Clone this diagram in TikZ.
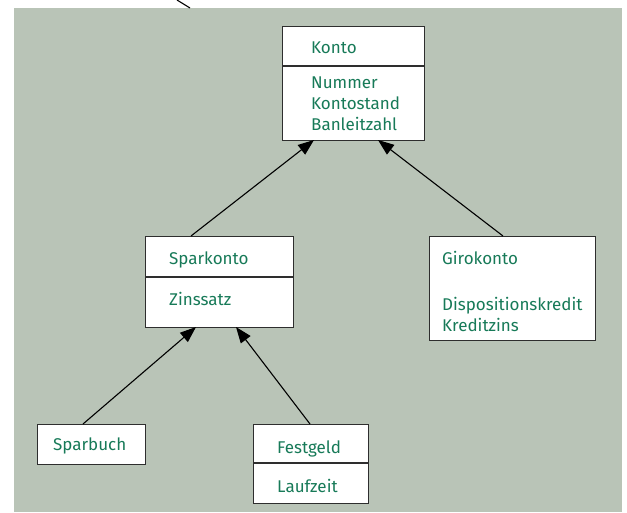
\documentclass[tikz,border=0pt]{standalone}
\usepackage{fontspec}
\setmainfont{Fira Sans}
\usetikzlibrary{arrows.meta}
\definecolor{panel}{HTML}{B9C4B7}
\definecolor{labelgreen}{HTML}{177A58}
\definecolor{frame}{HTML}{2E2E2E}
\tikzset{
  umlbox/.style={draw=frame, fill=white, line width=1.2pt, anchor=north west, inner sep=0pt},
  divider/.style={draw=frame, line width=1.2pt},
  attr/.style={text=labelgreen, anchor=base west, inner sep=0pt, font=\fontsize{17}{20}\selectfont},
  inherit/.style={draw=black, line width=1.1pt, -{Triangle[length=16pt,width=12pt]}},
}
\begin{document}
\begin{tikzpicture}[x=1pt,y=-1pt]
\useasboundingbox (0,0) rectangle (627,512);
% grey-green panel
\fill[panel] (14,8) rectangle (622,512);
\coordinate (strayA) at (177,0);
\coordinate (strayB) at (190,8);
\draw[line width=1.1pt] (strayA) -- (strayB);

% class boxes
\node[umlbox, minimum width=142pt, minimum height=114pt] (konto) at (282,26) {};
\draw[divider] (282,66) -- (424,66);
\node[attr] (kontoName) at (311,53) {Konto};
\node[attr] (kontoA) at (311,88) {Nummer};
\node[attr] (kontoB) at (311,109) {Kontostand};
\node[attr] (kontoC) at (311,130) {Banleitzahl};

\node[umlbox, minimum width=148pt, minimum height=91pt] (spar) at (145,236) {};
\draw[divider] (145,277) -- (293,277);
\node[attr] (sparName) at (169,264) {Sparkonto};
\node[attr] (sparA) at (169,305) {Zinssatz};

\node[umlbox, minimum width=166pt, minimum height=104pt] (giro) at (429,236) {};
\node[attr] (giroName) at (442,264) {Girokonto};
\node[attr] (giroA) at (442,310) {Dispositionskredit};
\node[attr] (giroB) at (442,331) {Kreditzins};

\node[umlbox, minimum width=108pt, minimum height=40pt] (buch) at (37,424) {};
\node[attr] (buchName) at (53,450) {Sparbuch};

\node[umlbox, minimum width=115pt, minimum height=79pt] (fest) at (253,424) {};
\draw[divider] (253,463) -- (368,463);
\node[attr] (festName) at (277,453) {Festgeld};
\node[attr] (festA) at (277,492) {Laufzeit};

% attachment points on the box edges
\coordinate (kontoL) at (314,140);
\coordinate (kontoR) at (378,140);
\coordinate (sparTop) at (191,236);
\coordinate (sparL) at (196,327);
\coordinate (sparR) at (236,327);
\coordinate (giroTop) at (503,236);
\coordinate (buchTop) at (83,424);
\coordinate (festTop) at (310,424);

% inheritance arrows
\draw[inherit] (sparTop) -- (kontoL);
\draw[inherit] (giroTop) -- (kontoR);
\draw[inherit] (buchTop) -- (sparL);
\draw[inherit] (festTop) -- (sparR);
\end{tikzpicture}
\end{document}
